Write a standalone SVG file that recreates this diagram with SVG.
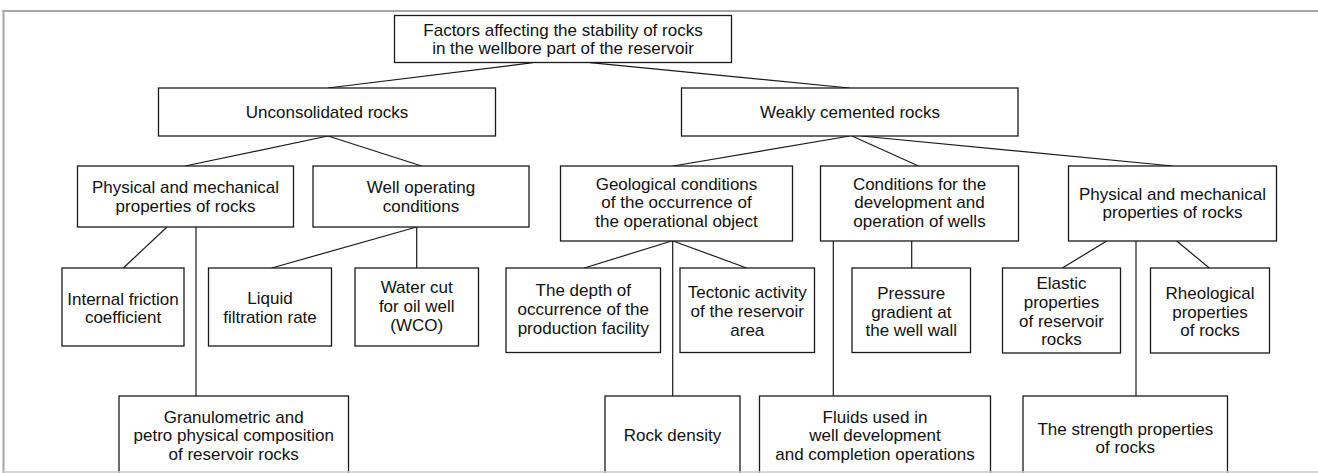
<svg xmlns="http://www.w3.org/2000/svg" width="1318" height="473" viewBox="0 0 1318 473">
<style>
.box{fill:#fff;stroke:#1a1a1a;stroke-width:1.3}
.t{font-family:"Liberation Sans",Arial,sans-serif;font-size:17px;fill:#111;text-anchor:middle}
.c line{stroke:#1a1a1a;stroke-width:1.2}
.frame{stroke:#a6a6a6;stroke-width:2;fill:none}
</style>
<rect width="1318" height="473" fill="#fff"/>
<g class="c" id="connectors">
<line x1="533" y1="62.7" x2="328" y2="88"/>
<line x1="590" y1="62.7" x2="849.5" y2="88"/>
<line x1="328" y1="136" x2="185" y2="166"/>
<line x1="328" y1="136" x2="421.7" y2="166"/>
<line x1="167" y1="227" x2="123.3" y2="268"/>
<line x1="196" y1="227" x2="196" y2="396"/>
<line x1="416.7" y1="227" x2="271.7" y2="268"/>
<line x1="416.7" y1="227" x2="416.7" y2="268"/>
<line x1="850" y1="136" x2="673" y2="166"/>
<line x1="852" y1="136" x2="918.5" y2="166"/>
<line x1="861" y1="136" x2="1173" y2="166"/>
<line x1="671.7" y1="241" x2="584.3" y2="268"/>
<line x1="673" y1="241" x2="746.7" y2="268"/>
<line x1="672.7" y1="241" x2="672.7" y2="396"/>
<line x1="833.3" y1="241" x2="833.3" y2="396"/>
<line x1="911.7" y1="241" x2="911.7" y2="268"/>
<line x1="1106.7" y1="241" x2="1062.3" y2="268"/>
<line x1="1136" y1="241" x2="1136" y2="396"/>
<line x1="1176.7" y1="241" x2="1209.3" y2="268"/>
</g>
<g id="root"><rect class="box" x="394.5" y="15.5" width="337" height="47"/>
<text class="t" x="563" y="36">Factors affecting the stability of rocks</text>
<text class="t" x="563" y="54">in the wellbore part of the reservoir</text></g>
<g id="unconsolidated"><rect class="box" x="158.5" y="88" width="337" height="48"/>
<text class="t" x="327" y="118">Unconsolidated rocks</text></g>
<g id="weakly"><rect class="box" x="681.5" y="88" width="336.5" height="48"/>
<text class="t" x="850" y="118">Weakly cemented rocks</text></g>
<g id="pm-left"><rect class="box" x="77.5" y="166" width="216" height="61"/>
<text class="t" x="185.5" y="193">Physical and mechanical</text>
<text class="t" x="185.5" y="212">properties of rocks</text></g>
<g id="well-op"><rect class="box" x="313" y="166" width="216" height="61"/>
<text class="t" x="421" y="193">Well operating</text>
<text class="t" x="421" y="212">conditions</text></g>
<g id="geological"><rect class="box" x="560.5" y="166" width="232" height="75"/>
<text class="t" x="676.5" y="189.5">Geological conditions</text>
<text class="t" x="676.5" y="208">of the occurrence of</text>
<text class="t" x="676.5" y="226.5">the operational object</text></g>
<g id="conditions"><rect class="box" x="820.5" y="166" width="198" height="75"/>
<text class="t" x="919.5" y="189.5">Conditions for the</text>
<text class="t" x="919.5" y="208">development and</text>
<text class="t" x="919.5" y="226.5">operation of wells</text></g>
<g id="pm-right"><rect class="box" x="1068.5" y="166" width="208" height="75"/>
<text class="t" x="1172.5" y="199.5">Physical and mechanical</text>
<text class="t" x="1172.5" y="218">properties of rocks</text></g>
<g id="friction"><rect class="box" x="62" y="268" width="122" height="78"/>
<text class="t" x="123" y="304.5">Internal friction</text>
<text class="t" x="123" y="323">coefficient</text></g>
<g id="liquid"><rect class="box" x="208.5" y="268" width="123" height="78"/>
<text class="t" x="270" y="304">Liquid</text>
<text class="t" x="270" y="323">filtration rate</text></g>
<g id="watercut"><rect class="box" x="355" y="268" width="123.5" height="78"/>
<text class="t" x="416.7" y="293">Water cut</text>
<text class="t" x="416.7" y="311.5">for oil well</text>
<text class="t" x="416.7" y="331">(WCO)</text></g>
<g id="depth"><rect class="box" x="506" y="268" width="154.5" height="84.5"/>
<text class="t" x="583.3" y="296">The depth of</text>
<text class="t" x="583.3" y="315">occurrence of the</text>
<text class="t" x="583.3" y="334">production facility</text></g>
<g id="tectonic"><rect class="box" x="680" y="268" width="134.5" height="84.5"/>
<text class="t" x="747.3" y="297.5">Tectonic activity</text>
<text class="t" x="747.3" y="316.5">of the reservoir</text>
<text class="t" x="747.3" y="335.5">area</text></g>
<g id="pressure"><rect class="box" x="852" y="268" width="118.5" height="84.5"/>
<text class="t" x="911.3" y="298.5">Pressure</text>
<text class="t" x="911.3" y="317.5">gradient at</text>
<text class="t" x="911.3" y="336">the well wall</text></g>
<g id="elastic"><rect class="box" x="1002.5" y="268" width="118" height="85"/>
<text class="t" x="1061.5" y="288.5">Elastic</text>
<text class="t" x="1061.5" y="307.5">properties</text>
<text class="t" x="1061.5" y="326.5">of reservoir</text>
<text class="t" x="1061.5" y="345">rocks</text></g>
<g id="rheological"><rect class="box" x="1150.5" y="268" width="119" height="85"/>
<text class="t" x="1210" y="299">Rheological</text>
<text class="t" x="1210" y="317.5">properties</text>
<text class="t" x="1210" y="336">of rocks</text></g>
<g id="granulometric"><rect class="box" x="119" y="396" width="229.5" height="90"/>
<text class="t" x="233.7" y="422.5">Granulometric and</text>
<text class="t" x="233.7" y="441">petro physical composition</text>
<text class="t" x="233.7" y="459.5">of reservoir rocks</text></g>
<g id="density"><rect class="box" x="605" y="396" width="135" height="90"/>
<text class="t" x="672.5" y="441">Rock density</text></g>
<g id="fluids"><rect class="box" x="759.5" y="396" width="231" height="90"/>
<text class="t" x="875" y="422.5">Fluids used in</text>
<text class="t" x="875" y="441">well development</text>
<text class="t" x="875" y="459.5">and completion operations</text></g>
<g id="strength"><rect class="box" x="1023" y="396" width="204.5" height="90"/>
<text class="t" x="1125.3" y="434.5">The strength properties</text>
<text class="t" x="1125.3" y="453">of rocks</text></g>
<line x1="2.5" y1="11" x2="1318" y2="11" class="frame"/>
<line x1="3.5" y1="10" x2="3.5" y2="473" class="frame"/>
<line x1="3.5" y1="472" x2="1318" y2="472" stroke="#c8c8c8" stroke-width="1.5"/>
</svg>
